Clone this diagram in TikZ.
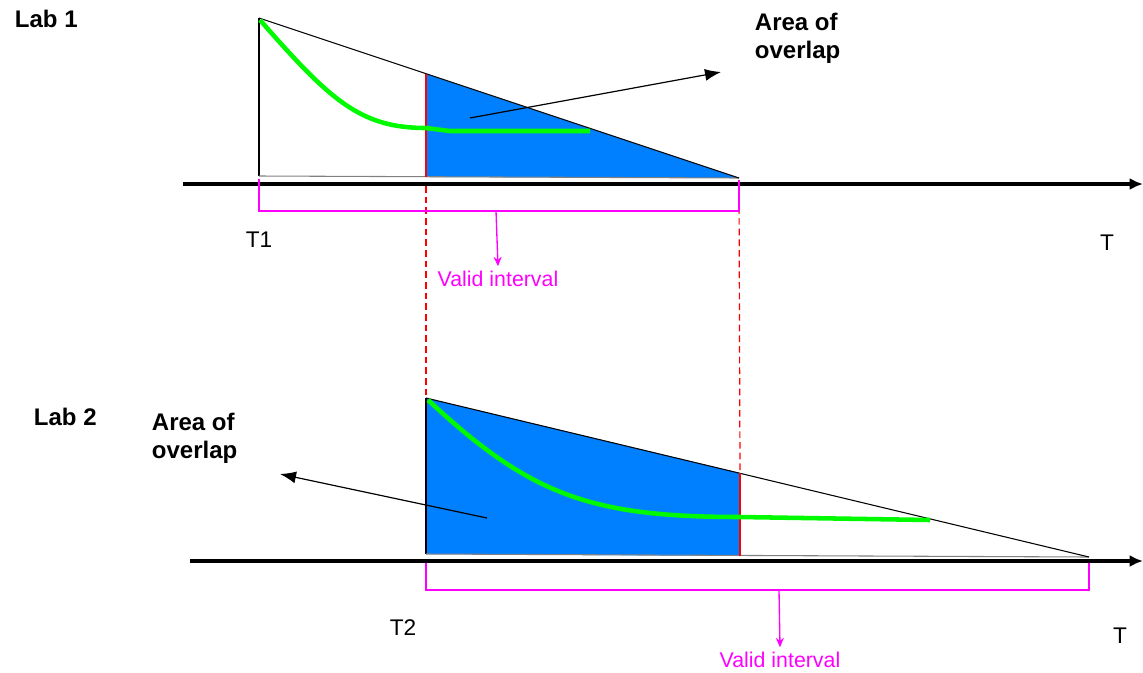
\documentclass[tikz,border=0pt]{standalone}
\usepackage{fontspec}
\setmainfont{Liberation Sans}
\usetikzlibrary{arrows.meta}
\definecolor{overlapblue}{RGB}{0,128,255}
\definecolor{curvegreen}{RGB}{0,250,0}
\definecolor{validpink}{RGB}{255,0,255}
\tikzset{
  labtext/.style={font=\bfseries\fontsize{18}{21}\selectfont},
  ttext/.style={font=\fontsize{17}{20}\selectfont},
  validtext/.style={text=validpink,font=\fontsize{16}{19}\selectfont},
  timeaxis/.style={line width=3.5pt,-{Latex[length=10pt,width=9pt]}},
  bracket/.style={validpink,line width=1pt},
  decay/.style={curvegreen,line width=3.4pt},
  pointer/.style={line width=0.9pt,-{Latex[length=12pt,width=9pt]}},
  guide/.style={red,line width=0.9pt,dash pattern=on 5pt off 3pt}
}
\begin{document}
\begin{tikzpicture}[x=0.75pt,y=-0.75pt,line width=0.8pt]
\useasboundingbox (0,0) rectangle (1143,672);
\coordinate (A) at (259,18); \coordinate (B) at (259,176); \coordinate (C) at (739,178);
\coordinate (P) at (426,74); \coordinate (Q) at (426,177);
\coordinate (D) at (426,398); \coordinate (E) at (426,554); \coordinate (F) at (1089,557);
\coordinate (R) at (740,473); \coordinate (S) at (740,556);
\fill[overlapblue] (P)--(C)--(Q)--cycle;
\fill[overlapblue] (D)--(R)--(S)--(E)--cycle;
\draw (A)--(B); \draw[gray] (B)--(C); \draw (A)--(C);
\draw (D)--(E); \draw[gray] (E)--(F); \draw (D)--(F);
\draw[red,line width=0.9pt] (P)--(Q); \draw[red,line width=0.9pt] (R)--(S);
\draw[decay] (260,20) .. controls (330,100) and (360,128) .. (426,128) -- (450,131) -- (590,131);
\draw[decay] (428,400) .. controls (530,495) and (590,517) .. (740,517) -- (930,520);
\coordinate (ax1s) at (183,184); \coordinate (ax1e) at (1143,184);
\coordinate (ax2s) at (190,561); \coordinate (ax2e) at (1143,561);
\draw[timeaxis] (ax1s)--(ax1e); \draw[timeaxis] (ax2s)--(ax2e);
\draw[guide] (426,186)--(D); \draw[guide] (739,186)--(R);
\draw[bracket] (259,179)--(259,211)--(739,211)--(739,180);
\draw[bracket] (426,563)--(426,590)--(1089,590)--(1089,563);
\node[labtext,anchor=west] (lab1) at (10,19) {Lab 1};
\node[labtext,anchor=west] (lab2) at (29,417) {Lab 2};
\node[labtext,anchor=west,align=left] (ov1) at (750,38) {Area of\\overlap};
\node[labtext,anchor=west,align=left] (ov2) at (147,438) {Area of\\overlap};
\node[validtext] (val1) at (498,279) {Valid interval};
\node[validtext] (val2) at (780,660) {Valid interval};
\foreach \p/\l/\t in {t1/{(259,240)}/T1,t2/{(403,628)}/T2,ta/{(1107,243)}/T,tb/{(1120,636)}/T}
  \node[ttext] (\p) at \l {\t};
\coordinate (br1) at (496,211); \coordinate (br2) at (779,590);
\draw[bracket,-{Stealth[length=7pt,width=6pt]}] (br1)--(val1.north);
\draw[bracket,-{Stealth[length=7pt,width=6pt]}] (br2)--(val2.north);
\coordinate (p1s) at (470,118); \coordinate (p1e) at (721,72);
\coordinate (p2s) at (487,518); \coordinate (p2e) at (280,474);
\draw[pointer] (p1s)--(p1e); \draw[pointer] (p2s)--(p2e);
\end{tikzpicture}
\end{document}
